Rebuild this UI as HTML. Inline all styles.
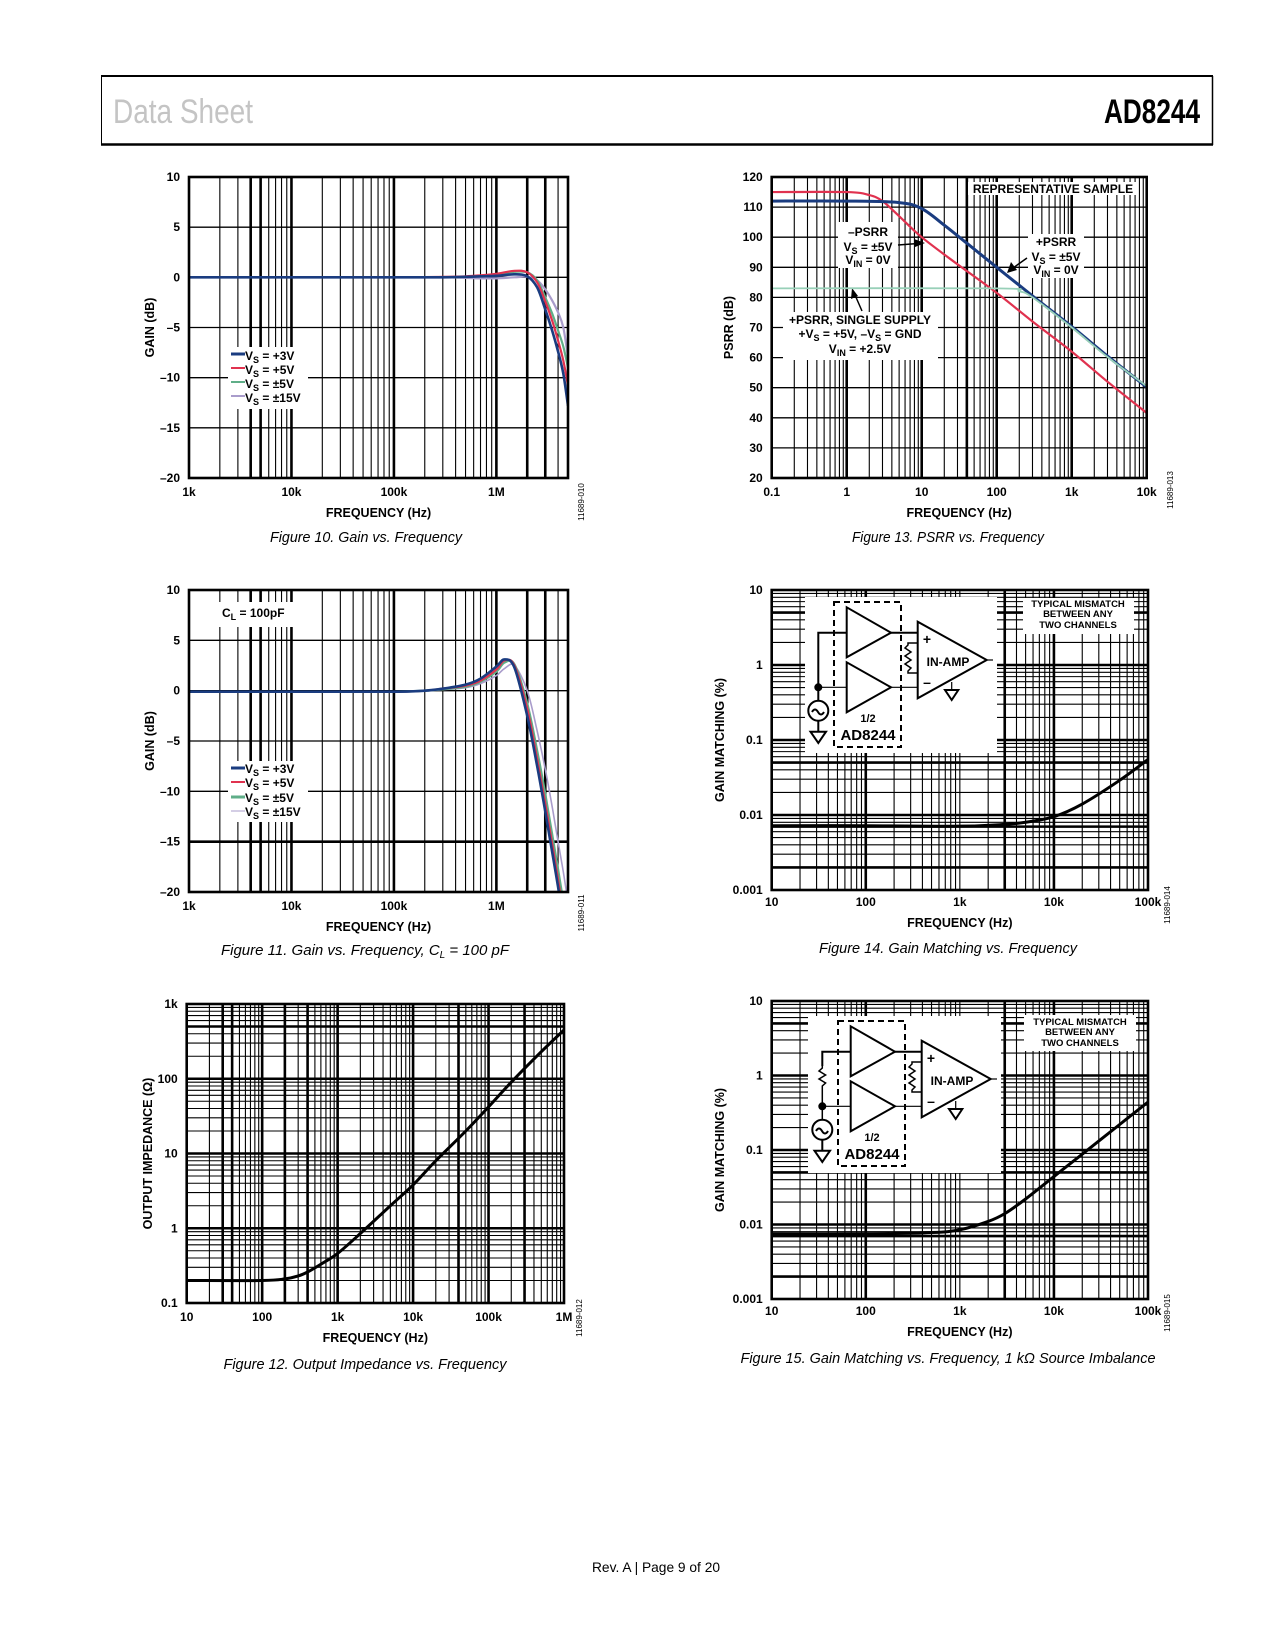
<!DOCTYPE html>
<html><head><meta charset="utf-8"><title>AD8244 Data Sheet page 9</title>
<style>
html,body{margin:0;padding:0;background:#fff;}
svg{display:block;}
text{font-family:"Liberation Sans",sans-serif;}
.tk{font-size:12px;font-weight:bold;fill:#000;}
.ax{font-size:12.5px;font-weight:bold;fill:#000;}
.cap{font-size:15px;font-style:italic;fill:#000;}
.ann{font-size:12px;font-weight:bold;fill:#000;}
.id{font-size:8px;fill:#000;}
</style></head>
<body>
<svg id="page" xmlns="http://www.w3.org/2000/svg" width="1275" height="1650" viewBox="0 0 1275 1650">
<rect x="0" y="0" width="1275" height="1650" fill="#fff"/>
<g>
  <line x1="101" y1="76" x2="1213" y2="76" stroke="#000" stroke-width="2"/>
  <line x1="101" y1="144.5" x2="1213" y2="144.5" stroke="#000" stroke-width="2.5"/>
  <line x1="101.5" y1="76" x2="101.5" y2="145" stroke="#000" stroke-width="1"/>
  <line x1="1212.5" y1="76" x2="1212.5" y2="145" stroke="#000" stroke-width="1.5"/>
  <text x="113" y="123" font-size="34" fill="#c4c4c4" textLength="140" lengthAdjust="spacingAndGlyphs">Data Sheet</text>
  <text x="1104" y="123" font-size="34" font-weight="bold" fill="#000" textLength="96" lengthAdjust="spacingAndGlyphs">AD8244</text>
</g>

<g id="charts"></g>

<g id="annotations">
  <!-- Fig 10 legend -->
  <g>
    <rect x="228" y="347" width="80" height="62" fill="#fff"/>
    <line x1="231" y1="354" x2="245" y2="354" stroke="#1a3c80" stroke-width="3"/>
    <text class="ann" x="245" y="360">V<tspan font-size="9" dy="3">S</tspan><tspan dy="-3"> = +3V</tspan></text>
    <line x1="231" y1="368" x2="245" y2="368" stroke="#e0324f" stroke-width="2"/>
    <text class="ann" x="245" y="374">V<tspan font-size="9" dy="3">S</tspan><tspan dy="-3"> = +5V</tspan></text>
    <line x1="231" y1="382" x2="245" y2="382" stroke="#5fae88" stroke-width="2"/>
    <text class="ann" x="245" y="388">V<tspan font-size="9" dy="3">S</tspan><tspan dy="-3"> = ±5V</tspan></text>
    <line x1="231" y1="396" x2="245" y2="396" stroke="#a99ccb" stroke-width="2"/>
    <text class="ann" x="245" y="402">V<tspan font-size="9" dy="3">S</tspan><tspan dy="-3"> = ±15V</tspan></text>
  </g>
  <!-- Fig 11 legend -->
  <g>
    <rect x="228" y="761" width="80" height="61" fill="#fff"/>
    <line x1="231" y1="768" x2="245" y2="768" stroke="#1a3c80" stroke-width="3"/>
    <text class="ann" x="245" y="773">V<tspan font-size="9" dy="3">S</tspan><tspan dy="-3"> = +3V</tspan></text>
    <line x1="231" y1="782" x2="245" y2="782" stroke="#e0324f" stroke-width="2"/>
    <text class="ann" x="245" y="787">V<tspan font-size="9" dy="3">S</tspan><tspan dy="-3"> = +5V</tspan></text>
    <line x1="231" y1="797" x2="245" y2="797" stroke="#5fae88" stroke-width="3"/>
    <text class="ann" x="245" y="802">V<tspan font-size="9" dy="3">S</tspan><tspan dy="-3"> = ±5V</tspan></text>
    <line x1="231" y1="811" x2="245" y2="811" stroke="#a99ccb" stroke-width="1"/>
    <text class="ann" x="245" y="816">V<tspan font-size="9" dy="3">S</tspan><tspan dy="-3"> = ±15V</tspan></text>
  </g>
  <g>
    <rect x="218" y="602" width="76" height="25" fill="#fff"/>
    <text class="ann" x="222" y="617">C<tspan font-size="9" dy="3">L</tspan><tspan dy="-3"> = 100pF</tspan></text>
  </g>
  <!-- Fig 13 annotations -->
  <g>
    <rect x="968" y="182" width="170" height="13" fill="#fff"/>
    <text class="ann" x="1053" y="193" text-anchor="middle">REPRESENTATIVE SAMPLE</text>
    <rect x="838" y="222" width="60" height="46" fill="#fff"/>
    <text class="ann" x="868" y="236" text-anchor="middle">–PSRR</text>
    <text class="ann" x="868" y="251" text-anchor="middle">V<tspan font-size="9" dy="3">S</tspan><tspan dy="-3"> = ±5V</tspan></text>
    <text class="ann" x="868" y="264" text-anchor="middle">V<tspan font-size="9" dy="3">IN</tspan><tspan dy="-3"> = 0V</tspan></text>
    <line x1="898" y1="245" x2="918" y2="243.5" stroke="#000" stroke-width="1.5"/>
    <polygon points="925,243 914,239 915,247" fill="#000"/>
    <rect x="1028" y="234" width="56" height="44" fill="#fff"/>
    <text class="ann" x="1056" y="246" text-anchor="middle">+PSRR</text>
    <text class="ann" x="1056" y="261" text-anchor="middle">V<tspan font-size="9" dy="3">S</tspan><tspan dy="-3"> = ±5V</tspan></text>
    <text class="ann" x="1056" y="274" text-anchor="middle">V<tspan font-size="9" dy="3">IN</tspan><tspan dy="-3"> = 0V</tspan></text>
    <line x1="1027" y1="258" x2="1013" y2="268" stroke="#000" stroke-width="1.5"/>
    <polygon points="1007,273 1011,262 1017,270" fill="#000"/>
    <rect x="783" y="312" width="155" height="48" fill="#fff"/>
    <text class="ann" x="860" y="324" text-anchor="middle">+PSRR, SINGLE SUPPLY</text>
    <text class="ann" x="860" y="338" text-anchor="middle">+V<tspan font-size="9" dy="3">S</tspan><tspan dy="-3"> = +5V, –V</tspan><tspan font-size="9" dy="3">S</tspan><tspan dy="-3"> = GND</tspan></text>
    <text class="ann" x="860" y="353" text-anchor="middle">V<tspan font-size="9" dy="3">IN</tspan><tspan dy="-3"> = +2.5V</tspan></text>
    <line x1="862" y1="311" x2="855" y2="295" stroke="#000" stroke-width="1.5"/>
    <polygon points="852,288 851,299 858,296" fill="#000"/>
  </g>
  <!-- Fig 14 inset -->
  <g transform="translate(805,597)" fill="none" stroke="#000" stroke-width="2">
    <rect x="0" y="0" width="192" height="156" fill="#fff" stroke="none"/>
    <rect x="29" y="5" width="67" height="145" stroke-dasharray="6,4"/>
    <polygon points="41.7,10.3 41.7,60.3 86,35.7" fill="#fff"/>
    <polygon points="41.7,65.3 41.7,115.3 86,90.3" fill="#fff"/>
    <polygon points="112.7,24.7 112.7,101.3 181.7,63" fill="#fff"/>
    <polyline points="41.7,35.7 13.3,35.7 13.3,103.7"/>
    <line x1="13.3" y1="90.3" x2="41.7" y2="90.3" stroke-width="1.2"/>
    <circle cx="13.3" cy="90.3" r="3" fill="#000"/>
    <circle cx="13.3" cy="113.7" r="10"/>
    <path d="M7,115 q3,-5 6,0 t6,0"/>
    <line x1="13.3" y1="123.7" x2="13.3" y2="134.7"/>
    <polygon points="5.5,134.7 21,134.7 13.3,146"/>
    <line x1="86" y1="35.7" x2="112.7" y2="35.7"/>
    <line x1="86" y1="90.3" x2="112.7" y2="90.3" stroke-width="1.2"/>
    <polyline points="112.7,46 103,46 103,48 100,51 106,55 100,59 106,63 100,67 106,71 103,74 103,76 112.7,76" stroke-width="1.5"/>
    <line x1="146.7" y1="85" x2="146.7" y2="93" stroke-width="1.2"/>
    <polygon points="140,93 153.3,93 146.7,103"/>
    <line x1="181.7" y1="63" x2="188" y2="63" stroke-width="1.2"/>
    <text x="122" y="47" font-size="14" font-weight="bold" fill="#000" stroke="none" text-anchor="middle">+</text>
    <text x="122" y="90" font-size="14" font-weight="bold" fill="#000" stroke="none" text-anchor="middle">–</text>
    <text x="143" y="69" font-size="12" font-weight="bold" fill="#000" stroke="none" text-anchor="middle">IN-AMP</text>
    <text x="63" y="125" font-size="11" font-weight="bold" fill="#000" stroke="none" text-anchor="middle">1/2</text>
    <text x="63" y="143" font-size="15" font-weight="bold" fill="#000" stroke="none" text-anchor="middle">AD8244</text>
  </g>
  <g>
    <rect x="1023" y="598" width="111" height="36" fill="#fff"/>
    <text class="ann" font-size="9.5" x="1078" y="607" text-anchor="middle" style="font-size:9.5px">TYPICAL MISMATCH</text>
    <text class="ann" x="1078" y="617" text-anchor="middle" style="font-size:9.5px">BETWEEN ANY</text>
    <text class="ann" x="1078" y="628" text-anchor="middle" style="font-size:9.5px">TWO CHANNELS</text>
  </g>
  <!-- Fig 15 inset -->
  <g transform="translate(809,1016)" fill="none" stroke="#000" stroke-width="2">
    <rect x="-1" y="0" width="193" height="157" fill="#fff" stroke="none"/>
    <rect x="29" y="5" width="67" height="145" stroke-dasharray="6,4"/>
    <polygon points="41.7,10.3 41.7,60.3 86,35.7" fill="#fff"/>
    <polygon points="41.7,65.3 41.7,115.3 86,90.3" fill="#fff"/>
    <polygon points="112.7,24.7 112.7,101.3 181.7,63" fill="#fff"/>
    <polyline points="41.7,35.7 13.3,35.7 13.3,50"/>
    <polyline points="13.3,50 13.3,52 10,55 16.6,59 10,63 16.6,67 13.3,70 13.3,103.7" stroke-width="1.5"/>
    <line x1="13.3" y1="90.3" x2="41.7" y2="90.3" stroke-width="1.2"/>
    <circle cx="13.3" cy="90.3" r="3" fill="#000"/>
    <circle cx="13.3" cy="113.7" r="10"/>
    <path d="M7,115 q3,-5 6,0 t6,0"/>
    <line x1="13.3" y1="123.7" x2="13.3" y2="134.7"/>
    <polygon points="5.5,134.7 21,134.7 13.3,146"/>
    <line x1="86" y1="35.7" x2="112.7" y2="35.7"/>
    <line x1="86" y1="90.3" x2="112.7" y2="90.3" stroke-width="1.2"/>
    <polyline points="112.7,46 103,46 103,48 100,51 106,55 100,59 106,63 100,67 106,71 103,74 103,76 112.7,76" stroke-width="1.5"/>
    <line x1="146.7" y1="85" x2="146.7" y2="93" stroke-width="1.2"/>
    <polygon points="140,93 153.3,93 146.7,103"/>
    <line x1="181.7" y1="63" x2="188" y2="63" stroke-width="1.2"/>
    <text x="122" y="47" font-size="14" font-weight="bold" fill="#000" stroke="none" text-anchor="middle">+</text>
    <text x="122" y="90" font-size="14" font-weight="bold" fill="#000" stroke="none" text-anchor="middle">–</text>
    <text x="143" y="69" font-size="12" font-weight="bold" fill="#000" stroke="none" text-anchor="middle">IN-AMP</text>
    <text x="63" y="125" font-size="11" font-weight="bold" fill="#000" stroke="none" text-anchor="middle">1/2</text>
    <text x="63" y="143" font-size="15" font-weight="bold" fill="#000" stroke="none" text-anchor="middle">AD8244</text>
  </g>
  <g>
    <rect x="1024" y="1015" width="112" height="36" fill="#fff"/>
    <text class="ann" x="1080" y="1025" text-anchor="middle" style="font-size:9.5px">TYPICAL MISMATCH</text>
    <text class="ann" x="1080" y="1035" text-anchor="middle" style="font-size:9.5px">BETWEEN ANY</text>
    <text class="ann" x="1080" y="1046" text-anchor="middle" style="font-size:9.5px">TWO CHANNELS</text>
  </g>
</g>
<g id="curves"></g>
<g id="frames"></g>

<g>
  <text class="cap" x="366" y="542" text-anchor="middle" textLength="192" lengthAdjust="spacingAndGlyphs">Figure 10. Gain vs. Frequency</text>
  <text class="cap" x="948" y="542" text-anchor="middle" textLength="192" lengthAdjust="spacingAndGlyphs">Figure 13. PSRR vs. Frequency</text>
  <text class="cap" x="365" y="955" text-anchor="middle">Figure 11. Gain vs. Frequency, C<tspan font-size="10" dy="3">L</tspan><tspan dy="-3"> = 100 pF</tspan></text>
  <text class="cap" x="948" y="953" text-anchor="middle" textLength="258" lengthAdjust="spacingAndGlyphs">Figure 14. Gain Matching vs. Frequency</text>
  <text class="cap" x="365" y="1369" text-anchor="middle" textLength="283" lengthAdjust="spacingAndGlyphs">Figure 12. Output Impedance vs. Frequency</text>
  <text class="cap" x="948" y="1363" text-anchor="middle" textLength="415" lengthAdjust="spacingAndGlyphs">Figure 15. Gain Matching vs. Frequency, 1 kΩ Source Imbalance</text>
</g>
<text x="656" y="1572" font-size="14" text-anchor="middle" textLength="128" lengthAdjust="spacingAndGlyphs">Rev. A | Page 9 of 20</text>
</svg>

<script>
// ---------- Figure 10: Gain vs Frequency ----------
const fig10Freq = [1e3,1e4,1e5,3e5,5e5,7e5,1e6,1.5e6,2e6,2.5e6,3e6,3.5e6,4e6,4.5e6,5e6];
const fig10Vs3 = [0,0,0,0,0.05,0.1,0.15,0.3,0.1,-1.0,-3.2,-5.3,-7.4,-9.6,-12.8];
const fig10Vs5 = [0,0,0,0.05,0.1,0.2,0.35,0.65,0.5,-0.5,-2.4,-4.3,-6.3,-8.3,-10.8];
const fig10VsPm5 = [0,0,0,0,0.05,0.15,0.3,0.55,0.5,-0.3,-2.0,-3.6,-5.3,-6.9,-9.0];
const fig10VsPm15 = [0,0,0,0,-0.05,-0.1,-0.1,0,0.05,-0.3,-1.2,-2.3,-3.5,-5.0,-8.0];
const fig10XTicks = [1e3,1e4,1e5,1e6];
const fig10XLabels = ["1k","10k","100k","1M"];
const fig10YTicks = [10,5,0,-5,-10,-15,-20];
const fig10YLabels = ["10","5","0","–5","–10","–15","–20"];

// ---------- Figure 11: Gain vs Frequency, CL = 100 pF ----------
const fig11Freq = [1e3,1e4,1e5,2e5,3e5,5e5,7e5,1e6,1.2e6,1.5e6,2e6,2.5e6,3e6,3.5e6,4e6,4.5e6,5e6];
const fig11Vs3 = [-0.1,-0.1,-0.1,0,0.2,0.6,1.2,2.4,3.1,2.3,-2.5,-7.5,-12,-16,-19.5,-23,-26];
const fig11Vs5 = [-0.1,-0.1,-0.1,0,0.2,0.5,1.0,2.1,3.0,2.5,-1.8,-6.8,-11.2,-15.2,-18.8,-22,-25];
const fig11VsPm5 = [-0.1,-0.1,-0.1,0,0.15,0.4,0.9,1.9,2.8,2.6,-1.3,-6,-10.3,-14.3,-17.8,-21,-24];
const fig11VsPm15 = [-0.1,-0.1,-0.1,0,0.1,0.3,0.7,1.5,2.2,2.5,0,-4,-7.8,-11.5,-15,-18,-21];

// ---------- Figure 12: Output Impedance ----------
const fig12Freq = [10,100,200,300,400,600,1e3,2e3,5e3,1e4,2e4,5e4,1e5,2e5,5e5,1e6];
const fig12Impedance = [0.2,0.2,0.21,0.23,0.26,0.33,0.46,0.85,2,3.8,8,20,42,90,230,450];
const fig12XTicks = [10,100,1e3,1e4,1e5,1e6];
const fig12XLabels = ["10","100","1k","10k","100k","1M"];
const fig12YTicks = [1000,100,10,1,0.1];
const fig12YLabels = ["1k","100","10","1","0.1"];

// ---------- Figure 13: PSRR ----------
const fig13NegFreq = [0.1,1,2,3,5,10,30,100,300,1e3,3e3,1e4];
const fig13NegPsrr = [115,115,114,112,107,100,91,81.5,72,62,52,41.6];
const fig13PosFreq = [0.1,1,5,10,20,40,100,300,1e3,3e3,1e4];
const fig13PosPsrr = [112,112,111.5,109.5,104,98,90,80.5,70.3,60.5,50.2];
const fig13SingleFreq = [0.1,100,200,300,1e3,3e3,1e4];
const fig13SinglePsrr = [83,83,82,80,70,60.2,50.5];
const fig13XTicks = [0.1,1,10,100,1e3,1e4];
const fig13XLabels = ["0.1","1","10","100","1k","10k"];
const fig13YTicks = [120,110,100,90,80,70,60,50,40,30,20];
const fig13YLabels = ["120","110","100","90","80","70","60","50","40","30","20"];

// ---------- Figure 14 / 15: Gain Matching ----------
const fig14Freq = [10,100,1e3,3e3,5e3,1e4,2e4,5e4,1e5];
const fig14Match = [0.0072,0.0072,0.0071,0.0075,0.008,0.0095,0.014,0.029,0.055];
const fig15Freq = [10,100,500,1e3,2e3,3e3,5e3,1e4,2e4,5e4,1e5];
const fig15Match = [0.0075,0.0075,0.0078,0.0085,0.011,0.014,0.022,0.044,0.088,0.22,0.44];
const fig14XTicks = [10,100,1e3,1e4,1e5];
const fig14XLabels = ["10","100","1k","10k","100k"];
const fig14YTicks = [10,1,0.1,0.01,0.001];
const fig14YLabels = ["10","1","0.1","0.01","0.001"];

const NS = "http://www.w3.org/2000/svg";
const chartsG = document.getElementById('charts');
const curvesG = document.getElementById('curves');
const framesG = document.getElementById('frames');

function el(tag, attrs, parent){
  const e = document.createElementNS(NS, tag);
  for (const k in attrs) e.setAttribute(k, attrs[k]);
  parent.appendChild(e);
  return e;
}
function logScale(min,max,p0,p1){ const a=Math.log10(min), b=Math.log10(max); return v => p0 + (Math.log10(v)-a)/(b-a)*(p1-p0); }
function linScale(min,max,p0,p1){ return v => p0 + (v-min)/(max-min)*(p1-p0); }
function near(v, list){ return list.some(t => Math.abs(Math.log10(v)-Math.log10(t)) < 1e-6); }

function makeChart(cfg){
  const g = el('g', {}, chartsG);
  
  
  const sx = logScale(cfg.xmin, cfg.xmax, cfg.L, cfg.R);
  const sy = cfg.ylog ? logScale(cfg.ymin, cfg.ymax, cfg.B, cfg.T) : linScale(cfg.ymin, cfg.ymax, cfg.B, cfg.T);
  // vertical log grid
  for (let d = Math.floor(Math.log10(cfg.xmin)); d <= Math.ceil(Math.log10(cfg.xmax)); d++){
    for (let m = 1; m <= 9; m++){
      const v = m * Math.pow(10, d);
      if (v <= cfg.xmin*1.0001 || v >= cfg.xmax*0.9999) continue;
      const x = sx(v);
      const w = near(v, cfg.xThick) ? 2.6 : 1.1;
      const ln = el('line', {x1:x, y1:cfg.T, x2:x, y2:cfg.B, stroke:'#000', 'stroke-width':w}, g);
      
      
    }
  }
  // horizontal grid
  if (cfg.ylog){
    for (let d = Math.floor(Math.log10(cfg.ymin)); d <= Math.ceil(Math.log10(cfg.ymax)); d++){
      for (let m = 1; m <= 9; m++){
        const v = m * Math.pow(10, d);
        if (v <= cfg.ymin*1.0001 || v >= cfg.ymax*0.9999) continue;
        const y = sy(v);
        const w = near(v, cfg.yThick) ? 2.6 : 1.1;
        const ln = el('line', {x1:cfg.L, y1:y, x2:cfg.R, y2:y, stroke:'#000', 'stroke-width':w}, g);
        
        
      }
    }
  } else {
    cfg.yTicks.forEach(v => {
      if (v === cfg.ymin || v === cfg.ymax) return;
      const y = sy(v);
      const w = cfg.yThick.indexOf(v) >= 0 ? 2.6 : 1.3;
      const ln = el('line', {x1:cfg.L, y1:y, x2:cfg.R, y2:y, stroke:'#000', 'stroke-width':w}, g);
      
      
    });
  }
  // frame
  const fr = el('rect', {x:cfg.L, y:cfg.T, width:cfg.R-cfg.L, height:cfg.B-cfg.T, fill:'none', stroke:'#000', 'stroke-width':2.6}, framesG);
  
  
  // tick labels
  cfg.xTicks.forEach((v,i) => {
    const t = el('text', {x:sx(v), y:cfg.B+cfg.xLabOff, 'text-anchor':'middle', class:'tk'}, framesG);
    t.textContent = cfg.xLabels[i];
    
    
  });
  cfg.yTicks.forEach((v,i) => {
    const t = el('text', {x:cfg.L-cfg.yLabOff, y:sy(v)+4, 'text-anchor':'end', class:'tk'}, framesG);
    t.textContent = cfg.yLabels[i];
    
    
  });
  const xt = el('text', {x:(cfg.L+cfg.R)/2, y:cfg.B+cfg.xTitleOff, 'text-anchor':'middle', class:'ax'}, framesG);
  xt.textContent = 'FREQUENCY (Hz)';
  
  
  const yt = el('text', {x:0, y:0, 'text-anchor':'middle', class:'ax', transform:'translate('+cfg.yTitleX+','+((cfg.T+cfg.B)/2)+') rotate(-90)'}, framesG);
  yt.textContent = cfg.yTitle;
  
  
  const id = el('text', {x:0, y:0, 'text-anchor':'middle', class:'id', transform:'translate('+cfg.idX+','+cfg.idY+') rotate(-90)'}, framesG);
  id.textContent = cfg.id;
  
  
  // clip
  const cp = el('clipPath', {id:cfg.name+'-clip'}, chartsG);
  el('rect', {x:cfg.L, y:cfg.T, width:cfg.R-cfg.L, height:cfg.B-cfg.T}, cp);
  return {sx, sy, cfg};
}

function smoothPath(pts){
  let d = 'M' + pts[0][0].toFixed(2) + ',' + pts[0][1].toFixed(2);
  for (let i = 0; i < pts.length-1; i++){
    const p0 = pts[i-1] || pts[i], p1 = pts[i], p2 = pts[i+1], p3 = pts[i+2] || p2;
    const c1x = p1[0] + (p2[0]-p0[0])/6, c1y = p1[1] + (p2[1]-p0[1])/6;
    const c2x = p2[0] - (p3[0]-p1[0])/6, c2y = p2[1] - (p3[1]-p1[1])/6;
    d += 'C' + c1x.toFixed(2)+','+c1y.toFixed(2)+' '+c2x.toFixed(2)+','+c2y.toFixed(2)+' '+p2[0].toFixed(2)+','+p2[1].toFixed(2);
  }
  return d;
}
function drawSeries(ch, xs, ys, color, width, name){
  const pts = xs.map((x,i) => [ch.sx(x), ch.sy(ys[i])]);
  const p = el('path', {d:smoothPath(pts), fill:'none', stroke:color, 'stroke-width':width, 'stroke-linejoin':'round', 'clip-path':'url(#'+ch.cfg.name+'-clip)'}, curvesG);
  
  
}

const NAVY='#1a3c80', RED='#e0324f', GREEN='#5fae88', LAV='#a99ccb', LGREEN='#98d0b8';

const c10 = makeChart({name:'fig10', L:189, R:568, T:177, B:478, xmin:1e3, xmax:5e6, ymin:-20, ymax:10, ylog:false,
  xThick:[4e3,5e3,1e4,1e5,1e6,2e6,3e6], yThick:[], xTicks:fig10XTicks, xLabels:fig10XLabels, yTicks:fig10YTicks, yLabels:fig10YLabels,
  xLabOff:18, yLabOff:9, xTitleOff:39, yTitle:'GAIN (dB)', yTitleX:154, id:'11689-010', idX:584, idY:502});
drawSeries(c10, fig10Freq, fig10VsPm15, LAV, 2.2, 'fig10-series-pm15v');
drawSeries(c10, fig10Freq, fig10VsPm5, GREEN, 2.2, 'fig10-series-pm5v');
drawSeries(c10, fig10Freq, fig10Vs5, RED, 2.2, 'fig10-series-5v');
drawSeries(c10, fig10Freq, fig10Vs3, NAVY, 2.6, 'fig10-series-3v');

const c11 = makeChart({name:'fig11', L:189, R:568, T:590, B:892, xmin:1e3, xmax:5e6, ymin:-20, ymax:10, ylog:false,
  xThick:[4e3,5e3,1e4,1e5,1e6,2e6,3e6], yThick:[-15], xTicks:fig10XTicks, xLabels:fig10XLabels, yTicks:fig10YTicks, yLabels:fig10YLabels,
  xLabOff:18, yLabOff:9, xTitleOff:39, yTitle:'GAIN (dB)', yTitleX:154, id:'11689-011', idX:584, idY:913});
drawSeries(c11, fig11Freq, fig11VsPm15, LAV, 1.6, 'fig11-series-pm15v');
drawSeries(c11, fig11Freq, fig11VsPm5, GREEN, 2.4, 'fig11-series-pm5v');
drawSeries(c11, fig11Freq, fig11Vs5, RED, 2.2, 'fig11-series-5v');
drawSeries(c11, fig11Freq, fig11Vs3, NAVY, 2.6, 'fig11-series-3v');

const c12 = makeChart({name:'fig12', L:186.7, R:564, T:1004, B:1303, xmin:10, xmax:1e6, ymin:0.1, ymax:1000, ylog:true,
  xThick:[30,40,100,200,400,1e3,1e4,4e4,1e5,3e5], yThick:[500,100,10,1], xTicks:fig12XTicks, xLabels:fig12XLabels, yTicks:fig12YTicks, yLabels:fig12YLabels,
  xLabOff:18, yLabOff:9, xTitleOff:39, yTitle:'OUTPUT IMPEDANCE (Ω)', yTitleX:152, id:'11689-012', idX:582, idY:1318});
drawSeries(c12, fig12Freq, fig12Impedance, '#000', 3, 'fig12-series-impedance');

const c13 = makeChart({name:'fig13', L:771.7, R:1146.7, T:177, B:478, xmin:0.1, xmax:1e4, ymin:20, ymax:120, ylog:false,
  xThick:[1,10,40,100,1e3], yThick:[], xTicks:fig13XTicks, xLabels:fig13XLabels, yTicks:fig13YTicks, yLabels:fig13YLabels,
  xLabOff:18, yLabOff:9, xTitleOff:39, yTitle:'PSRR (dB)', yTitleX:733, id:'11689-013', idX:1173, idY:490});
drawSeries(c13, fig13NegFreq, fig13NegPsrr, RED, 2.2, 'fig13-series-neg-psrr');
drawSeries(c13, fig13PosFreq, fig13PosPsrr, NAVY, 3, 'fig13-series-pos-psrr');
drawSeries(c13, fig13SingleFreq, fig13SinglePsrr, LGREEN, 1.8, 'fig13-series-single-supply');

const c14 = makeChart({name:'fig14', L:771.7, R:1148, T:590, B:890, xmin:10, xmax:1e5, ymin:0.001, ymax:10, ylog:true,
  xThick:[100,3e3,1e4], yThick:[1,0.1,0.01,0.007,0.002,5,0.05], xTicks:fig14XTicks, xLabels:fig14XLabels, yTicks:fig14YTicks, yLabels:fig14YLabels,
  xLabOff:16, yLabOff:9, xTitleOff:37, yTitle:'GAIN MATCHING (%)', yTitleX:724, id:'11689-014', idX:1170, idY:905});
drawSeries(c14, fig14Freq, fig14Match, '#000', 3, 'fig14-series-gain-matching');

const c15 = makeChart({name:'fig15', L:771.7, R:1148, T:1001, B:1299, xmin:10, xmax:1e5, ymin:0.001, ymax:10, ylog:true,
  xThick:[100,3e3,1e4], yThick:[1,0.1,0.01,0.007,0.002,5,0.05], xTicks:fig14XTicks, xLabels:fig14XLabels, yTicks:fig14YTicks, yLabels:fig14YLabels,
  xLabOff:16, yLabOff:9, xTitleOff:37, yTitle:'GAIN MATCHING (%)', yTitleX:724, id:'11689-015', idX:1170, idY:1313});
drawSeries(c15, fig15Freq, fig15Match, '#000', 3, 'fig15-series-gain-matching');

// move annotation layer above grid but below curves
const svg = document.getElementById('page');
svg.insertBefore(document.getElementById('annotations'), curvesG);
</script>
</body></html>
